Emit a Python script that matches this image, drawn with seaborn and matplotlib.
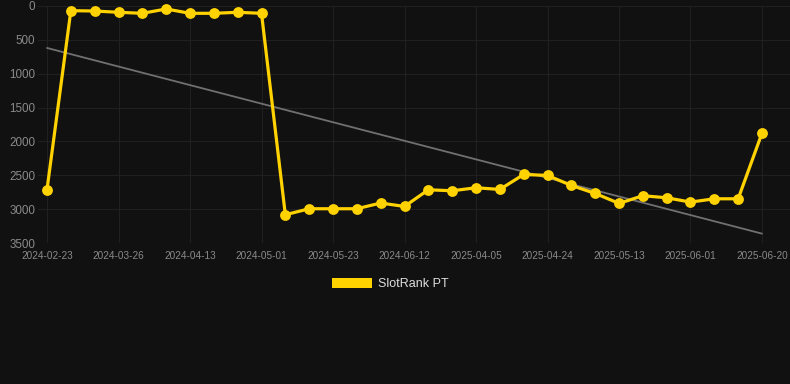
import numpy as np
import pandas as pd
import matplotlib
matplotlib.use("Agg")
import matplotlib.pyplot as plt
from matplotlib.patches import Patch
import seaborn as sns

# 슬롯 순위 데이터 (낮을수록 좋음)
dates = ["2024-02-23", "2024-03-05", "2024-03-15", "2024-03-26", "2024-04-01", "2024-04-07",
         "2024-04-13", "2024-04-19", "2024-04-25", "2024-05-01", "2024-05-08", "2024-05-15",
         "2024-05-23", "2024-05-30", "2024-06-05", "2024-06-12", "2025-03-22", "2025-03-29",
         "2025-04-05", "2025-04-11", "2025-04-18", "2025-04-24", "2025-04-30", "2025-05-07",
         "2025-05-13", "2025-05-19", "2025-05-26", "2025-06-01", "2025-06-07", "2025-06-14",
         "2025-06-20"]
ranks = [2710, 69, 74, 93, 108, 44, 108, 108, 93, 108,
         3083, 2994, 2994, 2994, 2910, 2960, 2714, 2729, 2684, 2709,
         2488, 2502, 2650, 2768, 2915, 2802, 2832, 2896, 2847, 2847, 1878]
tick_every = 3
series_name = "SlotRank PT"

df = pd.DataFrame({"date": dates, "rank": ranks})
df["idx"] = np.arange(len(df))

# 추세선 (선형 회귀)
slope, intercept = np.polyfit(df["idx"], df["rank"], 1)
df["trend"] = slope * df["idx"] + intercept

sns.set_theme(style="dark")
plt.rcParams["font.family"] = ["Liberation Sans", "DejaVu Sans"]

bg = "#111111"
fig = plt.figure(figsize=(7.9, 3.84), dpi=100, facecolor=bg)
ax = fig.add_axes([38 / 790, 141 / 384, 752 / 790, 237 / 384])
ax.set_facecolor(bg)

sns.lineplot(data=df, x="idx", y="trend", ax=ax, color="#707070", linewidth=1.3)
sns.lineplot(data=df, x="idx", y="rank", ax=ax, color="#FFD200", linewidth=2.3,
             marker="o", markersize=7.8, markeredgewidth=0, clip_on=False)

ax.set_ylim(3500, 0)
ax.set_xlim(-0.378, 31.175)
ax.set_yticks([0, 500, 1000, 1500, 2000, 2500, 3000, 3500])
ticks = df["idx"][::tick_every]
ax.set_xticks(ticks)
ax.set_xticklabels(df["date"][::tick_every])
ax.tick_params(axis="x", colors="#8a8a8a", labelsize=7.2, length=0, pad=6)
ax.tick_params(axis="y", colors="#8a8a8a", labelsize=8.4, length=0, pad=2)
ax.grid(True, color="#202020", linewidth=0.8)
ax.set_xlabel("")
ax.set_ylabel("")
for s in ax.spines.values():
    s.set_visible(False)

fig.legend(handles=[Patch(facecolor="#FFD200", edgecolor="none", label=series_name)],
           loc="center", bbox_to_anchor=(390 / 790, 1 - 284 / 384), frameon=False,
           handlelength=3.2, handleheight=0.9, handletextpad=0.5,
           fontsize=9, labelcolor="#dddddd")

plt.savefig("out.png", dpi=100, facecolor=bg)
